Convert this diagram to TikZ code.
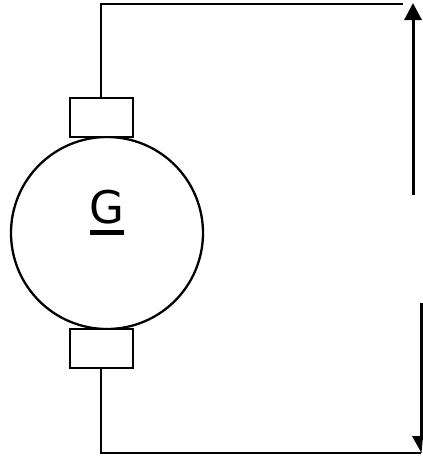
\documentclass[tikz,border=0pt]{standalone}
\usepackage{fontspec}
\setmainfont{DejaVu Sans}
\usetikzlibrary{arrows.meta}
\tikzset{
  wire/.style={line width=2.8pt,black},
  brush/.style={draw=black,line width=2.8pt,fill=white,minimum width=63pt,minimum height=39pt,inner sep=0pt,outer sep=0pt},
  rotor/.style={circle,draw=black,line width=2.3pt,minimum size=192pt,inner sep=0pt,outer sep=0pt},
  flowup/.style={line width=3pt,black,-{Triangle[length=17pt,width=17pt]}},
  flowdown/.style={line width=3pt,black},
  letter/.style={font=\fontsize{45pt}{45pt}\selectfont,inner sep=0pt,outer sep=0pt,anchor=base}
}
\begin{document}
\begin{tikzpicture}[x=1pt,y=-1pt]
\useasboundingbox (0,0) rectangle (423,459);
\node[rotor] (rotor) at (107,233) {};
\node[brush] (top) at (101.5,117.5) {};
\node[brush] (bot) at (101.5,348.5) {};
\node[letter] (g) at (106.5,223) {G};
\coordinate (ula) at (90,232);
\coordinate (ulb) at (124,232);
\draw[line width=5pt] (ula) -- (ulb);
\coordinate (tr) at (403,4);
\coordinate (br) at (421,453);
\draw[wire] (top.north -| 101,0) -- (101,4) -- (tr);
\draw[wire] (bot.south -| 101,0) -- (101,453) -- (br);
\coordinate (ua) at (413,195);
\coordinate (ub) at (413,3);
\draw[flowup] (ua) -- (ub);
\coordinate (da) at (421,303);
\coordinate (db) at (421,440);
\draw[flowdown] (da) -- (db);
\fill (412,436) -- (423,436) -- (421.5,453) -- cycle;
\end{tikzpicture}
\end{document}
